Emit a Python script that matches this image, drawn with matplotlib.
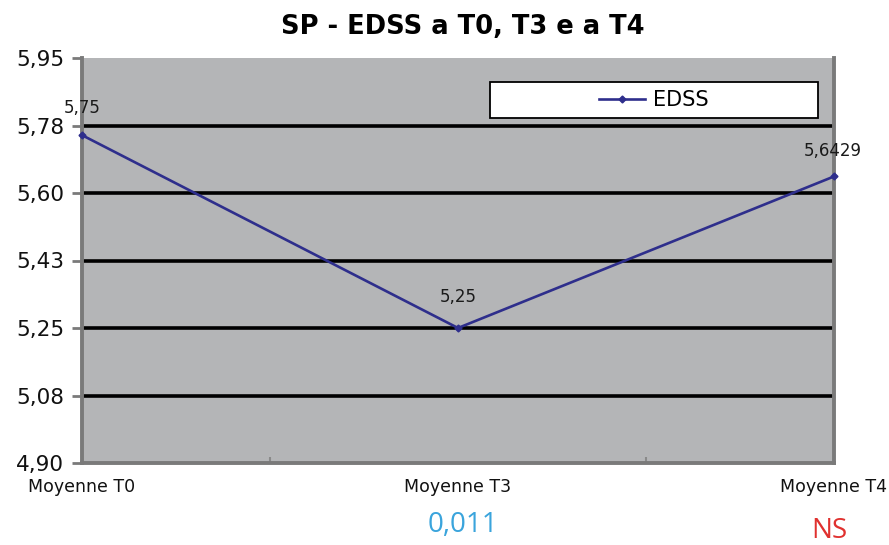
import matplotlib
matplotlib.use("Agg")
import matplotlib.pyplot as plt
from matplotlib.patches import Rectangle

categories = ["Moyenne T0", "Moyenne T3", "Moyenne T4"]
edss = [5.75, 5.25, 5.6429]
point_labels = ["5,75", "5,25", "5,6429"]
ytick_values = [4.90, 5.075, 5.25, 5.425, 5.60, 5.775, 5.95]
ytick_labels = ["4,90", "5,08", "5,25", "5,43", "5,60", "5,78", "5,95"]
pvalues = ["", "0,011", "NS"]
pvalue_colors = ["#3aa4dc", "#3aa4dc", "#e0312f"]

plt.rcParams['font.family'] = ['DejaVu Sans']

W, H = 889, 545
fig = plt.figure(figsize=(W/100, H/100), dpi=100)
ax = fig.add_axes([82/W, 1-463/H, (834-82)/W, (463-58)/H])
ax.set_facecolor("#b4b5b7")

x = list(range(len(categories)))
ax.plot(x, edss, color="#2e2e8c", lw=1.9, marker="D", ms=3.5, label="EDSS", clip_on=False, zorder=5)

ax.set_xlim(0, len(categories)-1)
ax.set_ylim(ytick_values[0], ytick_values[-1])
ax.set_yticks(ytick_values)
ax.set_yticklabels(ytick_labels, fontsize=15.5, color="#111111")
for yv in ytick_values[1:-1]:
    ax.axhline(yv, color="black", lw=2.6, zorder=2)

ax.set_xticks(x)
ax.set_xticklabels(categories, fontsize=12.5, color="#111111")
ax.tick_params(axis="x", length=0, pad=11)
ax.tick_params(axis="y", length=7, width=2, color="#7a7a7a", pad=6)
ax.set_xticks([0.5, 1.5], minor=True)
ax.tick_params(axis="x", which="minor", direction="in", length=4, width=1.5, color="#8a8a8a")

for s in ["left", "bottom", "right"]:
    ax.spines[s].set_color("#7a7a7a")
    ax.spines[s].set_linewidth(2.8)
ax.spines["top"].set_visible(False)

offsets = [(0, 13), (0, 16), (-1, 12)]
for xi, yi, lab, off in zip(x, edss, point_labels, offsets):
    ax.annotate(lab, (xi, yi), xytext=off, textcoords="offset points", ha="center", va="bottom",
                fontsize=12, color="#1a1a1a", annotation_clip=False)

fig.text(463/W, 1-27/H, "SP - EDSS a T0, T3 e a T4", ha="center", va="center", fontsize=18.5, fontweight="bold")

pv_y = [525, 525, 531]
pv_dx = [0, 5, -5]
for xi, pv, c, py, dx in zip(x, pvalues, pvalue_colors, pv_y, pv_dx):
    if pv:
        xp = ax.transData.transform((xi, 0))[0] / W
        fig.text(xp + dx/W, 1-py/H, pv, ha="center", va="center", fontsize=20,
                 color=c, family=["Open Sans", "DejaVu Sans"])

# legend box
fig.patches.append(Rectangle((490/W, 1-118/H), 328/W, 36/H, transform=fig.transFigure,
                             facecolor="white", edgecolor="black", lw=1.3, zorder=10))
leg = ax.legend(loc="center", bbox_to_anchor=(654/W, 1-100/H), bbox_transform=fig.transFigure,
                fontsize=15, frameon=False, handlelength=2.2, handletextpad=0.4, borderaxespad=0)
leg.set_zorder(11)
fig.legends.append(leg)

fig.savefig("out.png", dpi=100)
